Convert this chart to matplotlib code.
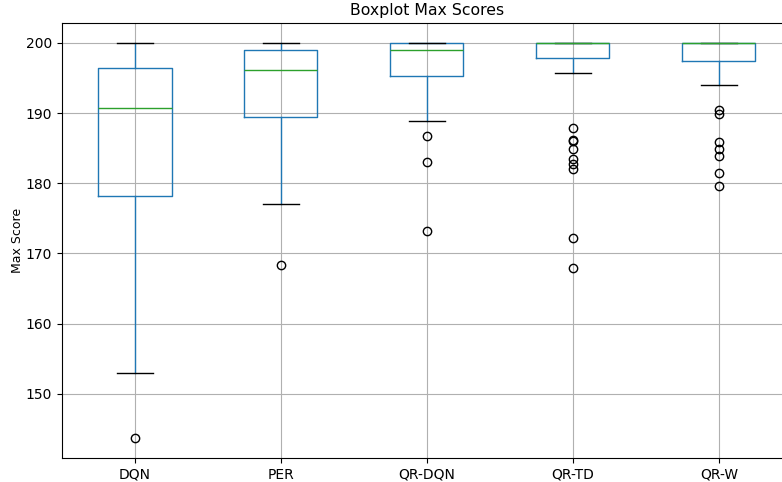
import matplotlib
matplotlib.use("Agg")
import matplotlib.pyplot as plt

# box statistics
labels = ["DQN", "PER", "QR-DQN", "QR-TD", "QR-W"]
q1 = [178.2, 189.4, 195.3, 197.9, 197.4]
med = [190.7, 196.1, 198.9, 200.0, 200.0]
q3 = [196.4, 199.0, 200.0, 200.0, 200.0]
whislo = [153.0, 177.0, 188.8, 195.7, 194.0]
whishi = [200.0, 200.0, 200.0, 200.0, 200.0]
fliers = [
    [143.7],
    [168.4],
    [186.7, 183.0, 173.2],
    [187.9, 186.2, 186.0, 184.9, 183.5, 182.8, 182.0, 172.2, 168.0],
    [190.5, 189.9, 185.9, 184.9, 183.9, 181.4, 179.6],
]

stats = []
for i, lab in enumerate(labels):
    stats.append({"label": lab, "q1": q1[i], "med": med[i], "q3": q3[i],
                  "whislo": whislo[i], "whishi": whishi[i], "fliers": fliers[i]})

fig = plt.figure(figsize=(7.82, 4.82), dpi=100)
ax = fig.add_axes([62 / 782, 24 / 482, 730 / 782, 435 / 482])

ax.bxp(stats, widths=0.5,
       boxprops=dict(color="#1f77b4"),
       whiskerprops=dict(color="#1f77b4"),
       capprops=dict(color="black"),
       medianprops=dict(color="#2ca02c"),
       flierprops=dict(marker="o", markerfacecolor="none", markeredgecolor="black"))

ax.grid(True, color="#b0b0b0", linewidth=0.8)
ax.set_axisbelow(True)
ax.set_title("Boxplot Max Scores", fontsize=11.3)
ax.set_ylabel("Max Score", fontsize=9, labelpad=1.5)

fig.savefig("out.png", dpi=100)
